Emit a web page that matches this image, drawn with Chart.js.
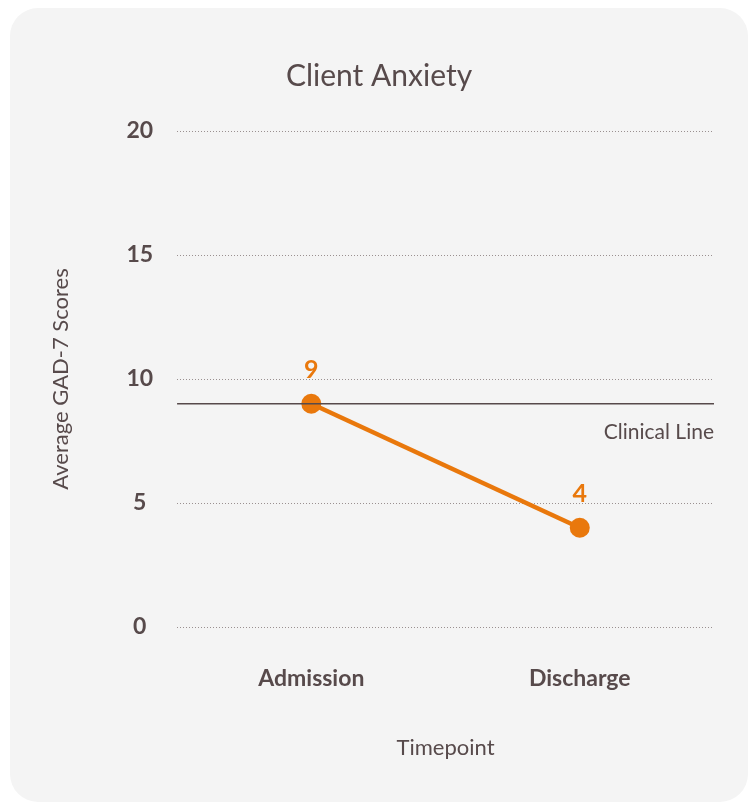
<!DOCTYPE html>
<html>
<head>
<meta charset="utf-8">
<script src="https://cdn.jsdelivr.net/npm/chart.js@4"></script>
<style>
  html, body { margin: 0; padding: 0; background: #fff; }
  .card {
    position: absolute; left: 10px; top: 8px; width: 738px; height: 794px;
    background: #f4f4f4; border-radius: 28px; overflow: hidden;
  }
</style>
</head>
<body>
<div class="card"><canvas id="chart" width="738" height="794"></canvas></div>
<script>
// chart data
const timepoints = ['Admission', 'Discharge'];
const gadScores = [9, 4];
const clinicalCutoff = 9;
const yTicks = [0, 5, 10, 15, 20];

const textColor = '#574a4b';
const orange = '#e9780c';

// clinical line + value labels
const extras = {
  id: 'extras',
  afterDatasetsDraw(chart) {
    const ctx = chart.ctx;
    const area = chart.chartArea;
    const y = chart.scales.y.getPixelForValue(clinicalCutoff);
    ctx.save();
    ctx.strokeStyle = textColor;
    ctx.lineWidth = 1.5;
    ctx.beginPath();
    ctx.moveTo(area.left, y);
    ctx.lineTo(area.right, y);
    ctx.stroke();
    ctx.fillStyle = textColor;
    ctx.font = '21px Lato';
    ctx.textAlign = 'right';
    ctx.textBaseline = 'middle';
    ctx.fillText('Clinical Line', area.right, y + 28);

    const meta = chart.getDatasetMeta(0);
    ctx.fillStyle = orange;
    ctx.font = 'bold 25px Lato';
    ctx.textAlign = 'center';
    ctx.textBaseline = 'bottom';
    meta.data.forEach((pt, i) => {
      ctx.fillText(gadScores[i], pt.x, pt.y - 21);
    });
    ctx.restore();
  }
};

new Chart(document.getElementById('chart'), {
  type: 'line',
  data: {
    labels: timepoints,
    datasets: [{
      data: gadScores,
      borderColor: orange,
      backgroundColor: orange,
      borderWidth: 4.5,
      pointRadius: 10,
      pointBackgroundColor: orange,
      pointBorderWidth: 0,
      clip: false
    }]
  },
  options: {
    responsive: false,
    animation: false,
    layout: { padding: { left: 34, right: 34, top: 50, bottom: 37 } },
    plugins: {
      legend: { display: false },
      tooltip: { enabled: false },
      title: {
        display: true,
        text: 'Client Anxiety',
        color: textColor,
        font: { family: 'Lato', size: 30, weight: 'normal' },
        padding: { top: 0, bottom: 37 }
      }
    },
    scales: {
      x: {
        offset: true,
        grid: { display: false, drawTicks: false },
        border: { display: false },
        ticks: {
          color: textColor,
          font: { family: 'Lato', size: 23, weight: 'bold' },
          padding: 38
        },
        title: {
          display: true,
          text: 'Timepoint',
          color: textColor,
          font: { family: 'Lato', size: 22, weight: 'normal' },
          padding: { top: 4 }
        }
      },
      y: {
        min: 0,
        max: 20,
        afterBuildTicks(scale) { scale.ticks = yTicks.map(v => ({ value: v })); },
        grid: { color: '#9a9090', lineWidth: 1, drawTicks: false },
        border: { display: false, dash: [1, 2] },
        ticks: {
          color: textColor,
          font: { family: 'Lato', size: 23, weight: 'bold' },
          padding: 24,
          crossAlign: 'center'
        },
        title: {
          display: true,
          text: 'Average GAD-7 Scores',
          color: textColor,
          font: { family: 'Lato', size: 22, weight: 'normal' },
          padding: { bottom: 28 }
        }
      }
    }
  },
  plugins: [extras]
});
</script>
</body>
</html>
